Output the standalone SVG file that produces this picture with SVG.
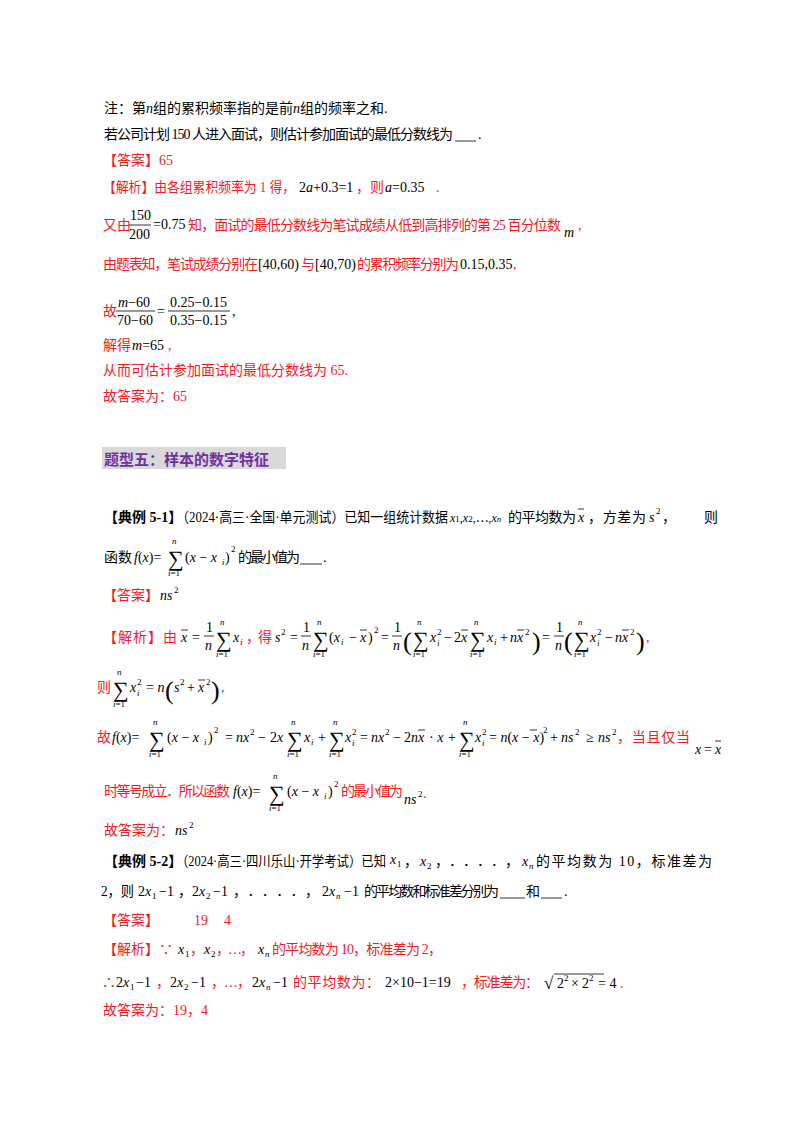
<svg xmlns="http://www.w3.org/2000/svg" width="800" height="1132" viewBox="0 0 800 1132">
<style>
text{font-family:"Liberation Serif","Noto Sans CJK SC",serif;font-size:14px;fill:#000}
.r{fill:#ee1c25}
.i{font-style:italic}
.s{font-size:9px}
.b{font-weight:bold}
.big{font-size:22px}
.p{font-size:26px}
line{stroke-width:0.8;stroke:#000}
</style>
<rect width="800" height="1132" fill="#fff"/>
<g id="part1">
<text x="104" y="113">注：第<tspan class="i">n</tspan>组的累积频率指的是前<tspan class="i">n</tspan>组的频率之和.</text>
<text x="104" y="139" textLength="349" lengthAdjust="spacing">若公司计划 150 人进入面试，则估计参加面试的最低分数线为</text>
<line x1="455" y1="141" x2="476" y2="141"/><text x="478" y="139">.</text>
<text class="r" x="103" y="165">【答案】65</text>
<text class="r" x="103" y="192" textLength="192" lengthAdjust="spacingAndGlyphs">【解析】由各组累积频率为 1 得，</text>
<text x="299" y="192">2<tspan class="i">a</tspan>+0.3=1</text>
<text class="r" x="356" y="192">，则</text>
<text x="385" y="192"><tspan class="i">a</tspan>=0.35</text>
<text class="r" x="436" y="192">.</text>
<text class="r" x="103" y="230">又由</text>
<text x="130" y="220">150</text><line x1="129" y1="225" x2="151" y2="225"/><text x="129" y="239">200</text>
<text x="153" y="229">=0.75</text>
<text class="r" x="188" y="230" textLength="373" lengthAdjust="spacing">知，面试的最低分数线为笔试成绩从低到高排列的第 25 百分位数</text>
<text class="i" x="564" y="237">m</text><text class="r" x="578" y="230">,</text>
<text class="r" x="103" y="269" textLength="155" lengthAdjust="spacing">由题表知，笔试成绩分别在</text>
<text x="258" y="269">[40,60)</text>
<text class="r" x="301" y="269">与</text>
<text x="315" y="269">[40,70)</text>
<text class="r" x="357" y="269" textLength="102" lengthAdjust="spacing">的累积频率分别为</text>
<text x="460" y="269">0.15,0.35</text>
<text class="r" x="513" y="269">,</text>
<text class="r" x="103" y="316">故</text>
<text x="118" y="307"><tspan class="i">m</tspan>−60</text><line x1="116" y1="311" x2="155" y2="311"/><text x="117" y="325">70−60</text>
<text x="157" y="316">=</text>
<text x="170" y="307">0.25−0.15</text><line x1="168" y1="311" x2="230" y2="311"/><text x="170" y="325">0.35−0.15</text>
<text x="232" y="316">,</text>
<text class="r" x="103" y="350">解得</text><text x="132" y="350"><tspan class="i">m</tspan>=65</text><text class="r" x="168" y="350">,</text>
<text class="r" x="103" y="375">从而可估计参加面试的最低分数线为 65.</text>
<text class="r" x="103" y="401">故答案为：65</text>
</g>
<g id="title">
<rect x="102" y="447" width="184" height="22" fill="#d9d9d9"/>
<text x="104" y="465" style="font-family:'Noto Sans CJK SC',sans-serif;font-size:15px;font-weight:bold;fill:#7030a0">题型五：样本的数字特征</text>
</g>
<g id="ex51">
<text x="104" y="522" class="b">【典例 5-1】</text>
<text x="176" y="522" textLength="272" lengthAdjust="spacingAndGlyphs">（2024·高三·全国·单元测试）已知一组统计数据</text>
<text x="450" y="522" style="font-size:12px"><tspan class="i">x</tspan><tspan class="s">1</tspan>,<tspan class="i">x</tspan><tspan class="s">2</tspan>,⋯,<tspan class="i">x</tspan><tspan class="s i">n</tspan></text>
<text x="508" y="522" textLength="68" lengthAdjust="spacing">的平均数为</text>
<text class="i" x="578" y="522">x</text><line x1="578" y1="509" x2="584" y2="509"/>
<text x="588" y="522" textLength="58" lengthAdjust="spacing">，方差为</text>
<text class="i" x="649" y="522">s</text><text class="s" x="656" y="514">2</text>
<text x="662" y="522" textLength="56" lengthAdjust="spacing">，则</text>
<text x="104" y="562">函数</text>
<text x="134" y="562"><tspan class="i">f</tspan>(<tspan class="i">x</tspan>)=</text>
<text class="big" x="168" y="566">∑</text><text class="s i" x="172" y="544">n</text><text class="s" x="168" y="576"><tspan class="i">i</tspan>=1</text>
<text x="185" y="562">(<tspan class="i">x</tspan> − <tspan class="i">x</tspan></text><text class="s i" x="222" y="565">i</text><text x="225" y="562">)</text><text class="s" x="231" y="552">2</text>
<text x="238" y="562" textLength="62" lengthAdjust="spacing">的最小值为</text>
<line x1="300" y1="564" x2="322" y2="564"/><text x="323" y="562">.</text>
<text class="r" x="103" y="600">【答案】</text><text class="i" x="160" y="600">ns</text><text class="s" x="174" y="593">2</text>
<text class="r" x="103" y="642" textLength="74" lengthAdjust="spacing">【解析】由</text>
<text class="i" x="181" y="642">x</text><line x1="181" y1="630" x2="188" y2="630"/><text x="192" y="642">=</text>
<text x="206" y="632">1</text><line x1="204" y1="636" x2="214" y2="636"/><text class="i" x="205" y="650">n</text>
<text class="big" x="216" y="647">∑</text><text class="s i" x="220" y="625">n</text><text class="s" x="216" y="657"><tspan class="i">i</tspan>=1</text>
<text class="i" x="233" y="642">x</text><text class="s i" x="240" y="645">i</text>
<text class="r" x="246" y="642" textLength="26" lengthAdjust="spacing">，得</text>
<text class="i" x="275" y="642">s</text><text class="s" x="281" y="635">2</text><text x="290" y="642">=</text>
<text x="303" y="632">1</text><line x1="301" y1="636" x2="311" y2="636"/><text class="i" x="302" y="650">n</text>
<text class="big" x="313" y="647">∑</text><text class="s i" x="317" y="625">n</text><text class="s" x="313" y="657"><tspan class="i">i</tspan>=1</text>
<text x="329" y="642">(<tspan class="i">x</tspan></text><text class="s i" x="341" y="645">i</text><text x="349" y="642">−</text><text class="i" x="360" y="642">x</text><line x1="360" y1="630" x2="367" y2="630"/><text x="368" y="642">)</text><text class="s" x="374" y="633">2</text>
<text x="381" y="642">=</text>
<text x="394" y="632">1</text><line x1="392" y1="636" x2="402" y2="636"/><text class="i" x="393" y="650">n</text>
<text class="p" x="403" y="650">(</text>
<text class="big" x="413" y="647">∑</text><text class="s i" x="417" y="625">n</text><text class="s" x="413" y="657"><tspan class="i">i</tspan>=1</text>
<text class="i" x="430" y="642">x</text><text class="s" x="437" y="635">2</text><text class="s i" x="437" y="646">i</text>
<text x="444" y="642">−</text><text x="454" y="642">2</text><text class="i" x="461" y="642">x</text><line x1="461" y1="630" x2="468" y2="630"/>
<text class="big" x="470" y="647">∑</text><text class="s i" x="474" y="625">n</text><text class="s" x="470" y="657"><tspan class="i">i</tspan>=1</text>
<text class="i" x="487" y="642">x</text><text class="s i" x="494" y="645">i</text>
<text x="500" y="642">+</text><text class="i" x="510" y="642">nx</text><line x1="517" y1="630" x2="524" y2="630"/><text class="s" x="525" y="635">2</text>
<text class="p" x="532" y="650">)</text>
<text x="542" y="642">=</text>
<text x="556" y="632">1</text><line x1="554" y1="636" x2="564" y2="636"/><text class="i" x="555" y="650">n</text>
<text class="p" x="564" y="650">(</text>
<text class="big" x="574" y="647">∑</text><text class="s i" x="578" y="625">n</text><text class="s" x="574" y="657"><tspan class="i">i</tspan>=1</text>
<text class="i" x="590" y="642">x</text><text class="s" x="597" y="635">2</text><text class="s i" x="597" y="646">i</text>
<text x="605" y="642">−</text><text class="i" x="615" y="642">nx</text><line x1="622" y1="630" x2="629" y2="630"/><text class="s" x="630" y="635">2</text>
<text class="p" x="636" y="650">)</text>
<text class="r" x="646" y="642">,</text>
<text class="r" x="97" y="692">则</text>
<text class="big" x="113" y="697">∑</text><text class="s i" x="117" y="675">n</text><text class="s" x="113" y="707"><tspan class="i">i</tspan>=1</text>
<text class="i" x="130" y="692">x</text><text class="s" x="137" y="685">2</text><text class="s i" x="137" y="696">i</text>
<text x="146" y="692">= <tspan class="i">n</tspan></text>
<text class="p" x="165" y="699">(</text>
<text class="i" x="174" y="692">s</text><text class="s" x="180" y="685">2</text>
<text x="187" y="692">+</text><text class="i" x="198" y="692">x</text><line x1="198" y1="680" x2="205" y2="680"/><text class="s" x="206" y="685">2</text>
<text class="p" x="211" y="699">)</text>
<text class="r" x="221" y="692">,</text>
<text class="r" x="97" y="742">故</text>
<text x="112" y="742"><tspan class="i">f</tspan>(<tspan class="i">x</tspan>)=</text>
<text class="big" x="149" y="747">∑</text><text class="s i" x="153" y="725">n</text><text class="s" x="149" y="757"><tspan class="i">i</tspan>=1</text>
<text x="167" y="742">(<tspan class="i">x</tspan> − <tspan class="i">x</tspan></text><text class="s i" x="204" y="745">i</text><text x="208" y="742">)</text><text class="s" x="214" y="733">2</text>
<text x="225" y="742">=</text><text class="i" x="236" y="742">nx</text><text class="s" x="250" y="735">2</text>
<text x="258" y="742">−</text><text x="270" y="742">2<tspan class="i">x</tspan></text>
<text class="big" x="287" y="747">∑</text><text class="s i" x="291" y="725">n</text><text class="s" x="287" y="757"><tspan class="i">i</tspan>=1</text>
<text class="i" x="304" y="742">x</text><text class="s i" x="311" y="745">i</text>
<text x="318" y="742">+</text>
<text class="big" x="329" y="747">∑</text><text class="s i" x="333" y="725">n</text><text class="s" x="329" y="757"><tspan class="i">i</tspan>=1</text>
<text class="i" x="345" y="742">x</text><text class="s" x="352" y="735">2</text><text class="s i" x="352" y="746">i</text>
<text x="360" y="742">=</text><text class="i" x="371" y="742">nx</text><text class="s" x="385" y="735">2</text>
<text x="393" y="742">−</text><text x="404" y="742">2<tspan class="i">nx</tspan></text><line x1="418" y1="730" x2="425" y2="730"/>
<text x="429" y="742">· <tspan class="i">x</tspan></text><text x="448" y="742">+</text>
<text class="big" x="459" y="747">∑</text><text class="s i" x="463" y="725">n</text><text class="s" x="459" y="757"><tspan class="i">i</tspan>=1</text>
<text class="i" x="475" y="742">x</text><text class="s" x="482" y="735">2</text><text class="s i" x="482" y="746">i</text>
<text x="489" y="742">= <tspan class="i">n</tspan>(<tspan class="i">x</tspan> − <tspan class="i">x</tspan>)</text><line x1="530" y1="730" x2="537" y2="730"/><text class="s" x="543" y="733">2</text>
<text x="550" y="742">+</text><text class="i" x="561" y="742">ns</text><text class="s" x="575" y="735">2</text>
<text x="586" y="742">≥</text><text class="i" x="598" y="742">ns</text><text class="s" x="612" y="735">2</text>
<text class="r" x="617" y="742" textLength="73" lengthAdjust="spacing">，当且仅当</text>
<text class="i" x="695" y="754">x</text><text x="704" y="754">=</text><text class="i" x="715" y="754">x</text><line x1="715" y1="741" x2="721" y2="741"/>
<text class="r" x="104" y="796" textLength="126" lengthAdjust="spacing">时等号成立．所以函数</text>
<text x="233" y="796"><tspan class="i">f</tspan>(<tspan class="i">x</tspan>)=</text>
<text class="big" x="269" y="801">∑</text><text class="s i" x="273" y="779">n</text><text class="s" x="269" y="811"><tspan class="i">i</tspan>=1</text>
<text x="287" y="796">(<tspan class="i">x</tspan> − <tspan class="i">x</tspan></text><text class="s i" x="324" y="799">i</text><text x="328" y="796">)</text><text class="s" x="334" y="787">2</text>
<text class="r" x="341" y="796" textLength="62" lengthAdjust="spacing">的最小值为</text>
<text class="i" x="404" y="804">ns</text><text class="s" x="418" y="797">2</text><text class="r" x="423" y="798">.</text>
<text class="r" x="104" y="835">故答案为：</text><text class="i" x="175" y="835">ns</text><text class="s" x="189" y="828">2</text>
</g>
<g id="ex52">
<text x="104" y="866" class="b">【典例 5-2】</text>
<text x="176" y="866" textLength="210" lengthAdjust="spacingAndGlyphs">（2024·高三·四川乐山·开学考试）已知</text>
<text class="i" x="390" y="864">x</text><text class="s" x="397" y="867">1</text>
<text x="404" y="866">，</text>
<text class="i" x="420" y="866">x</text><text class="s" x="427" y="869">2</text>
<text x="435" y="866" textLength="84" lengthAdjust="spacing">，．．．．，</text>
<text class="i" x="522" y="866">x</text><text class="s i" x="529" y="869">n</text>
<text x="536" y="866" textLength="176" lengthAdjust="spacing">的平均数为 10，标准差为</text>
<text x="101" y="896" textLength="33" lengthAdjust="spacingAndGlyphs">2，则</text>
<text x="138" y="896">2<tspan class="i">x</tspan></text><text class="s" x="152" y="899">1</text><text x="159" y="896">−1</text>
<text x="178" y="896">，</text>
<text x="192" y="896">2<tspan class="i">x</tspan></text><text class="s" x="206" y="899">2</text><text x="213" y="896">−1</text>
<text x="233" y="896" textLength="86" lengthAdjust="spacing">，．．．．，</text>
<text x="322" y="896">2<tspan class="i">x</tspan></text><text class="s i" x="336" y="899">n</text><text x="344" y="896">−1</text>
<text x="364" y="896" textLength="135" lengthAdjust="spacing">的平均数和标准差分别为</text>
<line x1="500" y1="898" x2="525" y2="898"/><text x="526" y="896">和</text><line x1="541" y1="898" x2="562" y2="898"/><text x="564" y="896">.</text>
<text class="r" x="103" y="925">【答案】</text><text class="r" x="194" y="925">19</text><text class="r" x="224" y="925">4</text>
<text class="r" x="103" y="954">【解析】∵</text>
<text class="i" x="178" y="954">x</text><text class="s" x="185" y="957">1</text>
<text class="r" x="190" y="954">，</text>
<text class="i" x="204" y="954">x</text><text class="s" x="211" y="957">2</text>
<text class="r" x="216" y="954" textLength="38" lengthAdjust="spacing">，…，</text>
<text class="i" x="258" y="954">x</text><text class="s i" x="265" y="957">n</text>
<text class="r" x="272" y="954" textLength="170" lengthAdjust="spacing">的平均数为 10，标准差为 2，</text>
<text class="r" x="102" y="987">∴</text>
<text x="116" y="987">2<tspan class="i">x</tspan></text><text class="s" x="130" y="990">1</text><text x="136" y="987">−1</text>
<text class="r" x="156" y="987">，</text>
<text x="170" y="987">2<tspan class="i">x</tspan></text><text class="s" x="184" y="990">2</text><text x="191" y="987">−1</text>
<text class="r" x="211" y="987" textLength="40" lengthAdjust="spacing">，…，</text>
<text x="252" y="987">2<tspan class="i">x</tspan></text><text class="s i" x="266" y="990">n</text><text x="273" y="987">−1</text>
<text class="r" x="293" y="987" textLength="87" lengthAdjust="spacing">的平均数为：</text>
<text x="385" y="987">2×10−1=19</text>
<text class="r" x="461" y="987" textLength="78" lengthAdjust="spacing">，标准差为：</text>
<text x="544" y="989" style="font-size:17px">√</text><line x1="554" y1="974" x2="604" y2="974"/>
<text x="557" y="988">2</text><text class="s" x="564" y="981">2</text><text x="571" y="988">×</text><text x="582" y="988">2</text><text class="s" x="589" y="981">2</text><text x="598" y="988">= 4</text><text class="r" x="620" y="988">.</text>
<text class="r" x="103" y="1015">故答案为：19，4</text>
</g>
</svg>
